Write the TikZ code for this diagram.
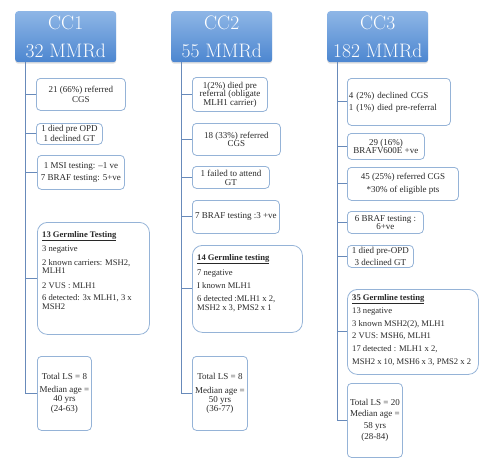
\documentclass[tikz,border=0pt]{standalone}
\usepackage{fontspec}
\setmainfont{Liberation Serif}
\newfontfamily\headfont{Latin Modern Roman}
\usepackage{tikz}
\usetikzlibrary{positioning,shadows}

\definecolor{hdtop}{RGB}{142,182,230}
\definecolor{hdbot}{RGB}{76,134,208}
\definecolor{boxline}{RGB}{149,179,215}
\definecolor{linkcol}{RGB}{104,138,186}
\definecolor{txt}{RGB}{40,40,40}

\begin{document}
\begin{tikzpicture}[
				x=1pt,y=-1pt,
				head/.style={anchor=north west,rounded corners=3pt,top color=hdtop,bottom color=hdbot,
					text=white,align=center,minimum width=101pt,minimum height=51pt,
					font=\headfont\fontsize{19.5}{28}\selectfont,
					drop shadow={opacity=0.25,shadow xshift=0pt,shadow yshift=-1.5pt}},
				stage/.style={anchor=north west,draw=boxline,line width=0.8pt,rounded corners=4pt,
					align=center,inner sep=1pt,text=txt,font=\fontsize{9}{10}\selectfont},
				gtest/.style={stage,rounded corners=10pt},
				gtext/.style={anchor=north west,align=left,inner sep=0pt,text=txt,
					font=\fontsize{8.6}{8.5}\selectfont},
				link/.style={draw=linkcol,line width=0.9pt}
				]
				\useasboundingbox (0,0) rectangle (489,467);
				
				% headers
				\node[head] (h1) at (15,11) {CC1\\32 MMRd};
				\node[head] (h2) at (171,11) {CC2\\55 MMRd};
				\node[head] (h3) at (327,11) {CC3\\182 MMRd};
				\coordinate (t1) at (25,62);
				\coordinate (t2) at (181,62);
				\coordinate (t3) at (337,62);
				
				% CC1
				\node[stage,minimum width=89pt,minimum height=32pt] (b11) at (36,78) {21 (66\%) referred\\CGS};
				\node[stage,minimum width=66pt,minimum height=21pt] (b12) at (36,123) {1 died pre OPD\\1 declined GT};
				\node[stage,minimum width=87pt,minimum height=34pt,font=\fontsize{9}{12}\selectfont] (b13) at (37,155) {1 MSI testing: --1 ve\\7 BRAF testing: 5+ve};
				\node[gtest,minimum width=112pt,minimum height=112pt] (b14) at (37,222) {};
				\node[gtext] (b14t) at ([xshift=5pt,yshift=-9pt]b14.north west)
					{\underline{\textbf{13 Germline Testing}}\\[4pt]
					 3 negative\\[5pt]
					 2 known carriers: MSH2,\\MLH1\\[6pt]
					 2 VUS : MLH1\\[4pt]
					 6 detected: 3x MLH1, 3 x\\MSH2};
				\node[stage,minimum width=54pt,minimum height=74pt,font=\fontsize{9}{9.5}\selectfont] (b15) at (37,356) {Total LS = 8\\[3pt]Median age =\\40 yrs\\(24-63)};
				
				% CC2
				\node[stage,minimum width=75pt,minimum height=34pt,font=\fontsize{9}{8.5}\selectfont] (b21) at (192,77) {1(2\%) died pre\\referral (obligate\\MLH1 carrier)};
				\node[stage,minimum width=88pt,minimum height=32pt,font=\fontsize{9}{8}\selectfont] (b22) at (192,123) {18 (33\%) referred\\CGS};
				\node[stage,minimum width=77pt,minimum height=22pt,font=\fontsize{9}{9}\selectfont] (b23) at (192,166) {1 failed to attend\\GT};
				\node[stage,minimum width=87pt,minimum height=33pt] (b24) at (192,200) {7 BRAF testing :3 +ve};
				\node[gtest,minimum width=110pt,minimum height=87pt] (b25) at (192,245) {};
				\node[gtext] (b25t) at ([xshift=5pt,yshift=-9pt]b25.north west)
					{\underline{\textbf{14 Germline testing}}\\[5pt]
					 7 negative\\[4.5pt]
					 I known MLH1\\[4.5pt]
					 6 detected :MLH1 x 2,\\MSH2 x 3, PMS2 x 1};
				\node[stage,minimum width=55pt,minimum height=74pt,font=\fontsize{9}{9}\selectfont] (b26) at (192,356) {Total LS = 8\\[5pt]Median age =\\50 yrs\\(36-77)};
				
				% CC3
				\node[stage,minimum width=103pt,minimum height=47pt,align=left,text width=100pt,font=\fontsize{9}{12}\selectfont] (b31) at (347,78) {4 (2\%) declined CGS\\1 (1\%) died pre-referral};
				\node[stage,minimum width=77pt,minimum height=26pt,font=\fontsize{9}{8}\selectfont] (b32) at (347,133) {29 (16\%)\\BRAFV600E +ve};
				\node[stage,minimum width=111pt,minimum height=33pt,font=\fontsize{9}{13}\selectfont] (b33) at (347,167) {45 (25\%) referred CGS\\*30\% of eligible pts};
				\node[stage,minimum width=76pt,minimum height=22pt,font=\fontsize{9}{8}\selectfont] (b34) at (347,211) {6 BRAF testing :\\6+ve};
				\node[stage,minimum width=66pt,minimum height=22pt,font=\fontsize{9}{12}\selectfont] (b35) at (347,245) {1 died pre-OPD\\3 declined GT};
				\node[gtest,minimum width=131pt,minimum height=85pt] (b36) at (347,289) {};
				\node[gtext,font=\fontsize{8.6}{13}\selectfont] (b36t) at ([xshift=5pt,yshift=-5pt]b36.north west)
					{\underline{\textbf{35 Germline testing}}\\
					 13 negative\\
					 3 known MSH2(2), MLH1\\[-1pt]
					 2 VUS: MSH6, MLH1\\
					 17 detected : MLH1 x 2,\\
					 MSH2 x 10, MSH6 x 3, PMS2 x 2};
				\node[stage,minimum width=55pt,minimum height=74pt,font=\fontsize{9}{11.5}\selectfont] (b37) at (347,383) {Total LS = 20\\Median age =\\58 yrs\\(28-84)};
				
				% the connectors
				\draw[link] (t1) |- (b15.west);
				\foreach \b in {b11,b12,b13,b14}
					\draw[link] (t1 |- \b.west) -- (\b.west);
				\draw[link] (t2) |- (b26.west);
				\foreach \b in {b21,b22,b23,b24,b25}
					\draw[link] (t2 |- \b.west) -- (\b.west);
				\draw[link] (t3) |- (b37.west);
				\foreach \b in {b31,b32,b33,b34,b35,b36}
					\draw[link] (t3 |- \b.west) -- (\b.west);
			\end{tikzpicture}
\end{document}
